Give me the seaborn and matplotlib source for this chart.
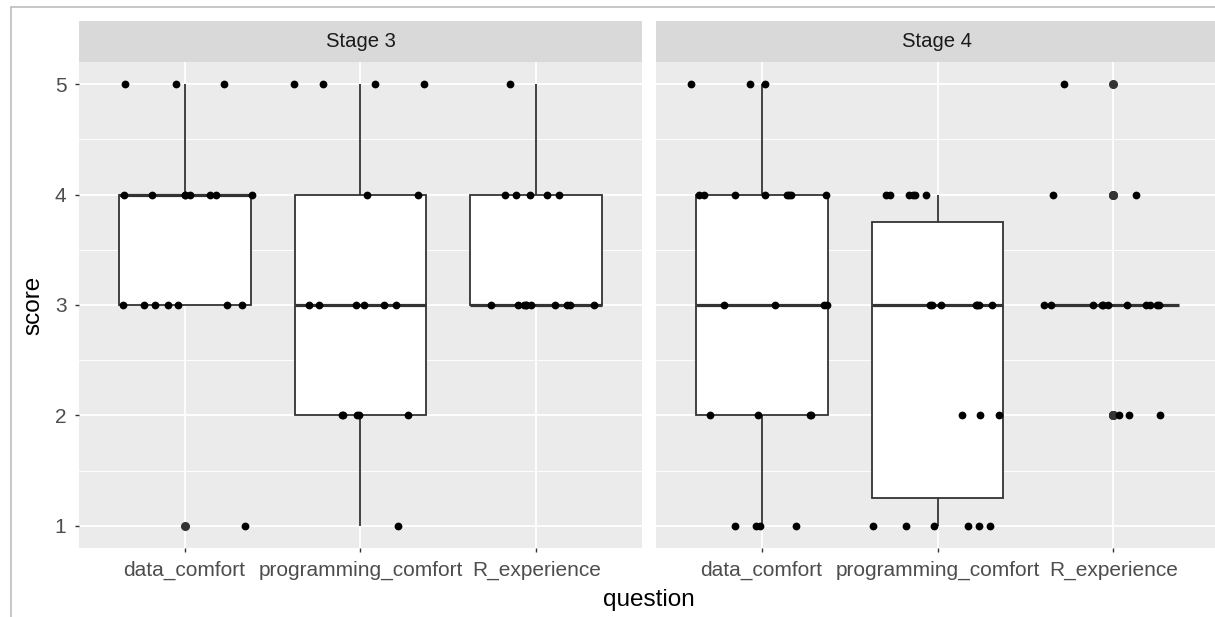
import numpy as np
import pandas as pd
import seaborn as sns
import matplotlib.pyplot as plt
from matplotlib.lines import Line2D

# survey scores
questions = ["data_comfort", "programming_comfort", "R_experience"]
stages = ["Stage 3", "Stage 4"]

s3_data_comfort = [5, 5, 5, 4, 4, 4, 4, 4, 4, 4, 4, 3, 3, 3, 3, 3, 3, 3, 1]
s3_programming_comfort = [5, 5, 5, 5, 4, 4, 3, 3, 3, 3, 3, 3, 2, 2, 2, 2, 2, 1]
s3_R_experience = [5, 4, 4, 4, 4, 4, 3, 3, 3, 3, 3, 3, 3, 3, 3, 3]

s4_data_comfort = [5, 5, 5, 4, 4, 4, 4, 4, 4, 4, 4, 3, 3, 3, 3, 2, 2, 2, 2, 1, 1, 1, 1]
s4_programming_comfort = [4, 4, 4, 4, 4, 4, 3, 3, 3, 3, 3, 3, 3, 2, 2, 2, 1, 1, 1, 1, 1, 1]
s4_R_experience = [5, 4, 4, 3, 3, 3, 3, 3, 3, 3, 3, 3, 3, 3, 2, 2, 2]

scores = {
    "Stage 3": [s3_data_comfort, s3_programming_comfort, s3_R_experience],
    "Stage 4": [s4_data_comfort, s4_programming_comfort, s4_R_experience],
}

rows = []
for stage in stages:
    for q, vals in zip(questions, scores[stage]):
        for v in vals:
            rows.append({"stage": stage, "question": q, "score": v})
df = pd.DataFrame(rows)

sns.set_theme(style="darkgrid")
plt.rcParams['font.family'] = ['Liberation Sans', 'DejaVu Sans']

W, H = 1215, 617
fig = plt.figure(figsize=(W / 100, H / 100), dpi=100)
fig.patch.set_facecolor("white")

def fx(px):
    return px / W

def fy(py):
    return 1 - py / H

panel_top, panel_bot = 62, 548
strip_top = 21
panels = [(79, 642), (656, 1219)]

np.random.seed(7)
for i, (stage, (x0, x1)) in enumerate(zip(stages, panels)):
    ax = fig.add_axes([fx(x0), fy(panel_bot), fx(x1 - x0), (panel_bot - panel_top) / H])
    sub = df[df["stage"] == stage]

    sns.boxplot(data=sub, x="question", y="score", order=questions, ax=ax,
                width=0.75, color="white", saturation=1, linecolor="#333333",
                linewidth=1.3, showcaps=False, fliersize=5.5,
                flierprops=dict(marker="o", markerfacecolor="#333333",
                                markeredgecolor="#333333"),
                medianprops=dict(linewidth=2.3, color="#333333"))
    sns.stripplot(data=sub, x="question", y="score", order=questions, ax=ax,
                  jitter=0.4, color="black", size=5.6, linewidth=0, zorder=4)

    ax.set_facecolor("#EBEBEB")
    ax.set_xlim(-0.6, 2.6)
    ax.set_ylim(0.8, 5.2)
    ax.set_yticks([1, 2, 3, 4, 5])
    ax.set_yticks([1.5, 2.5, 3.5, 4.5], minor=True)
    ax.grid(which="major", color="white", linewidth=1.3)
    ax.grid(which="minor", axis="y", color="white", linewidth=0.65)
    ax.set_axisbelow(True)
    for sp in ax.spines.values():
        sp.set_visible(False)
    ax.set_xlabel("")
    ax.set_ylabel("")
    ax.tick_params(axis="both", which="major", colors="#333333", length=3,
                   width=1.0, labelsize=15, labelcolor="#4D4D4D",
                   bottom=True, left=True)
    ax.tick_params(axis="x", pad=6)
    ax.tick_params(axis="y", pad=6)
    ax.tick_params(axis="y", which="minor", length=0)
    if i > 0:
        ax.tick_params(axis="y", left=False, labelleft=False)

    # facet strip
    sax = fig.add_axes([fx(x0), fy(panel_top), fx(x1 - x0), (panel_top - strip_top) / H])
    sax.set_facecolor("#D9D9D9")
    sax.grid(False)
    sax.set_xticks([])
    sax.set_yticks([])
    for sp in sax.spines.values():
        sp.set_visible(False)
    sax.text(0.5, 0.5, stage, ha="center", va="center", fontsize=14.6,
             color="#1A1A1A", transform=sax.transAxes)

fig.text(fx(33), fy((panel_top + panel_bot) / 2), "score", rotation=90,
         ha="center", va="center", fontsize=17.5, color="black")
fig.text(fx(649), fy(600), "question", ha="center", va="center",
         fontsize=17.5, color="black")

# screenshot frame
fig.add_artist(Line2D([fx(11), fx(11)], [0, fy(7)], color="#BDBDBD", lw=1.2))
fig.add_artist(Line2D([fx(11), 1], [fy(7), fy(7)], color="#BDBDBD", lw=1.2))

fig.savefig("out.png", dpi=100)
